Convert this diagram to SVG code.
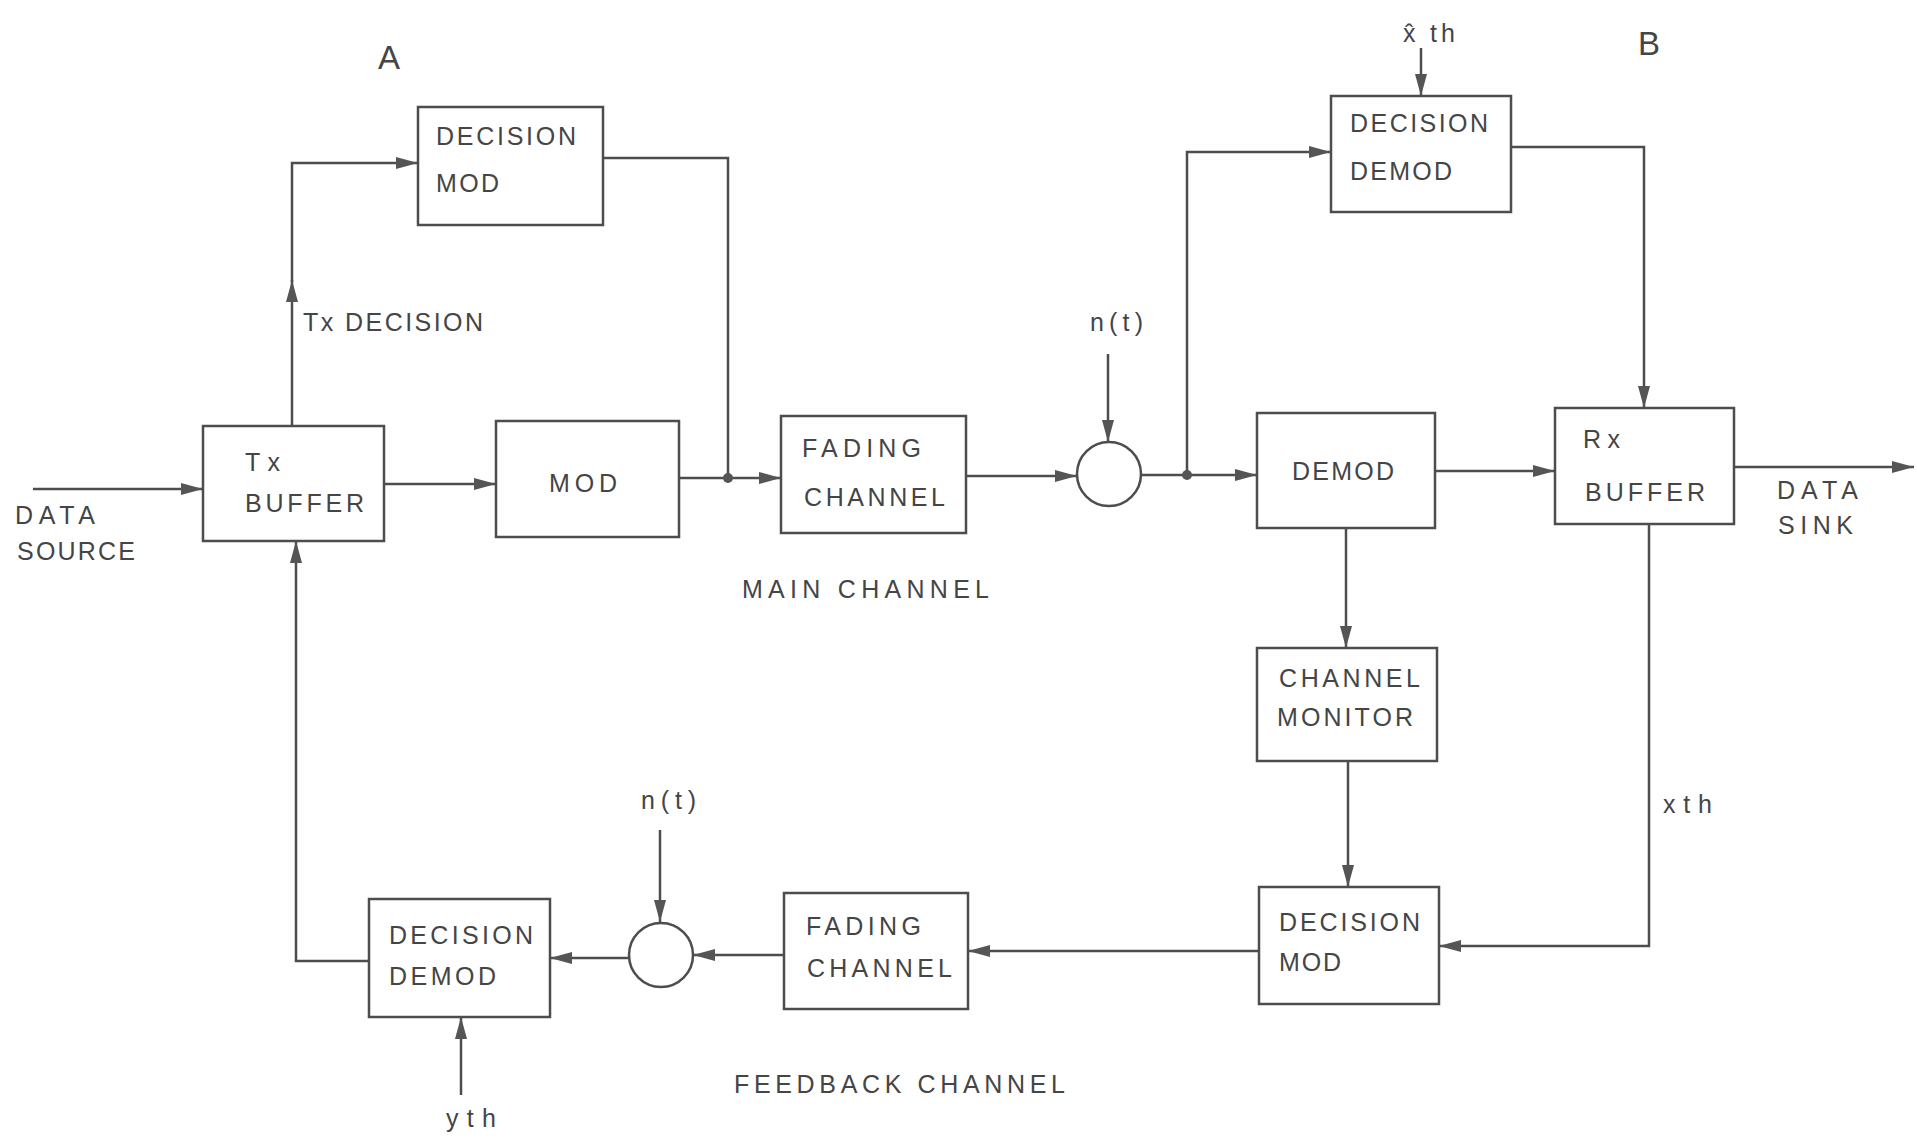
<svg xmlns="http://www.w3.org/2000/svg" width="1917" height="1139" viewBox="0 0 1917 1139">
<style>
.box{fill:none;stroke:#4d4d4d;stroke-width:2.5}
.ln{fill:none;stroke:#4d4d4d;stroke-width:2.5}
.ar{marker-end:url(#ah)}
.t{font-family:"Liberation Sans",Arial,sans-serif;font-size:25px;fill:#454545}
.big{font-size:33px}
.dot{fill:#555}
</style>
<defs>
<marker id="ah" markerUnits="userSpaceOnUse" markerWidth="24" markerHeight="14" refX="22" refY="6" orient="auto">
<path d="M0,0 L22,6 L0,12 z" fill="#555"/>
</marker>
</defs>
<rect width="1917" height="1139" fill="#fff"/>

<g id="connectors">
<path class="ln ar" d="M33,489 H203"/>
<path class="ln ar" d="M384,484 H496"/>
<path class="ln ar" d="M292,426 V280"/>
<path class="ln ar" d="M292,282 V163 H418"/>
<path class="ln" d="M603,158 H728 V478"/>
<path class="ln" d="M679,478 H728"/>
<path class="ln ar" d="M728,478 H781"/>
<path class="ln ar" d="M966,476 H1077"/>
<path class="ln ar" d="M1108,354 V442"/>
<path class="ln ar" d="M1141,475 H1257"/>
<path class="ln ar" d="M1187,475 V152 H1331"/>
<path class="ln ar" d="M1421,48 V96"/>
<path class="ln ar" d="M1511,147 H1644 V408"/>
<path class="ln ar" d="M1435,471 H1555"/>
<path class="ln ar" d="M1734,467 H1914"/>
<path class="ln ar" d="M1346,528 V648"/>
<path class="ln ar" d="M1348,761 V887"/>
<path class="ln ar" d="M1649,524 V946 H1439"/>
<path class="ln ar" d="M1259,951 H968"/>
<path class="ln ar" d="M784,955 H693"/>
<path class="ln ar" d="M660,830 V922"/>
<path class="ln ar" d="M629,958 H550"/>
<path class="ln ar" d="M461,1095 V1017"/>
<path class="ln ar" d="M369,961 H296 V541"/>
<circle class="dot" cx="728" cy="478" r="5"/>
<circle class="dot" cx="1187" cy="475" r="5"/>
</g>

<g id="label-A"><text class="t big" x="378" y="69">A</text></g>
<g id="label-B"><text class="t big" x="1638" y="55">B</text></g>

<g id="tx-buffer">
<rect class="box" x="203" y="426" width="181" height="115"/>
<text class="t" x="245" y="471" textLength="35">Tx</text>
<text class="t" x="245" y="512" textLength="119">BUFFER</text>
</g>
<g id="data-source">
<text class="t" x="15" y="524" textLength="80">DATA</text>
<text class="t" x="17" y="560" textLength="118">SOURCE</text>
</g>
<g id="tx-decision-label"><text class="t" x="303" y="331" textLength="180">Tx DECISION</text></g>

<g id="decision-mod-a">
<rect class="box" x="418" y="107" width="185" height="118"/>
<text class="t" x="436" y="145" textLength="140">DECISION</text>
<text class="t" x="436" y="192" textLength="63">MOD</text>
</g>

<g id="mod">
<rect class="box" x="496" y="421" width="183" height="116"/>
<text class="t" x="549" y="492" textLength="68">MOD</text>
</g>

<g id="fading-main">
<rect class="box" x="781" y="416" width="185" height="117"/>
<text class="t" x="802" y="457" textLength="119">FADING</text>
<text class="t" x="804" y="506" textLength="141">CHANNEL</text>
</g>
<g id="main-channel-label"><text class="t" x="742" y="598" textLength="247">MAIN CHANNEL</text></g>

<g id="adder-main">
<circle class="box" cx="1109" cy="474" r="32"/>
<text class="t" x="1090" y="331" textLength="53">n(t)</text>
</g>

<g id="decision-demod-b">
<rect class="box" x="1331" y="96" width="180" height="116"/>
<text class="t" x="1350" y="132" textLength="138">DECISION</text>
<text class="t" x="1350" y="180" textLength="102">DEMOD</text>
<text class="t" x="1403" y="42">x&#770;</text>
<text class="t" x="1430" y="42" textLength="25">th</text>
</g>

<g id="demod">
<rect class="box" x="1257" y="413" width="178" height="115"/>
<text class="t" x="1292" y="480" textLength="102">DEMOD</text>
</g>

<g id="rx-buffer">
<rect class="box" x="1555" y="408" width="179" height="116"/>
<text class="t" x="1583" y="448" textLength="37">Rx</text>
<text class="t" x="1585" y="501" textLength="120">BUFFER</text>
</g>
<g id="data-sink">
<text class="t" x="1777" y="499" textLength="81">DATA</text>
<text class="t" x="1778" y="534" textLength="75">SINK</text>
</g>

<g id="channel-monitor">
<rect class="box" x="1257" y="648" width="180" height="113"/>
<text class="t" x="1279" y="687" textLength="141">CHANNEL</text>
<text class="t" x="1277" y="726" textLength="136">MONITOR</text>
</g>

<g id="decision-mod-b">
<rect class="box" x="1259" y="887" width="180" height="117"/>
<text class="t" x="1279" y="931" textLength="141">DECISION</text>
<text class="t" x="1279" y="971" textLength="62">MOD</text>
</g>
<g id="xth-label"><text class="t" x="1663" y="813" textLength="49">xth</text></g>

<g id="fading-feedback">
<rect class="box" x="784" y="893" width="184" height="116"/>
<text class="t" x="806" y="935" textLength="115">FADING</text>
<text class="t" x="807" y="977" textLength="145">CHANNEL</text>
</g>
<g id="feedback-channel-label"><text class="t" x="734" y="1093" textLength="331">FEEDBACK CHANNEL</text></g>

<g id="adder-feedback">
<circle class="box" cx="661" cy="955" r="32"/>
<text class="t" x="641" y="809" textLength="55">n(t)</text>
</g>

<g id="decision-demod-a">
<rect class="box" x="369" y="899" width="181" height="118"/>
<text class="t" x="389" y="944" textLength="144">DECISION</text>
<text class="t" x="389" y="985" textLength="107">DEMOD</text>
<text class="t" x="446" y="1127" textLength="50">yth</text>
</g>
</svg>
